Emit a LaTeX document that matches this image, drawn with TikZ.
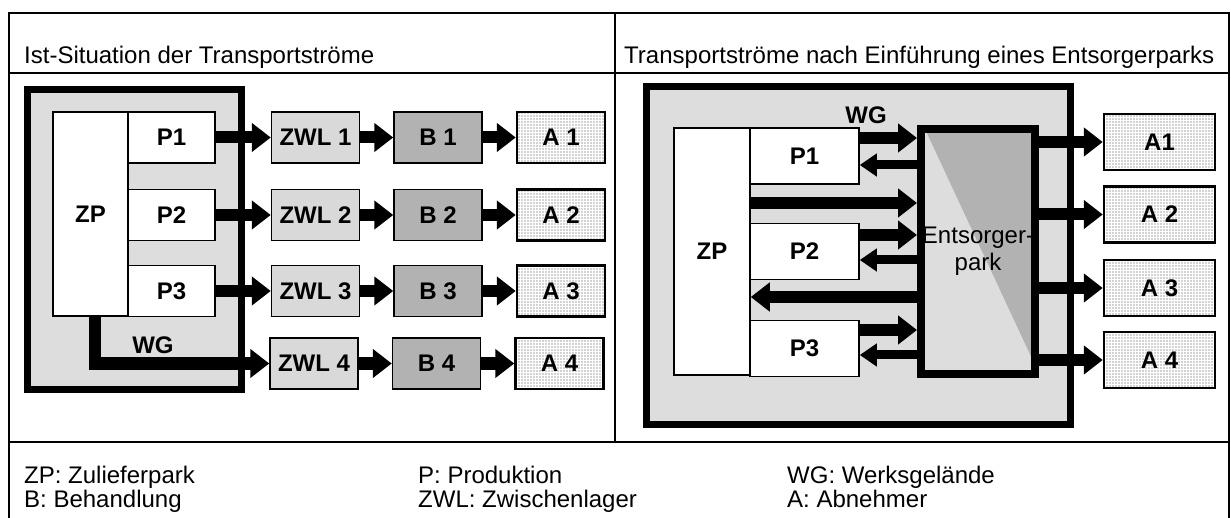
\documentclass[tikz,border=0pt]{standalone}
\usepackage{fontspec}
\setmainfont{Liberation Sans}
\usepackage{tikz}
\usetikzlibrary{arrows.meta,positioning,patterns.meta}
\definecolor{sitegray}{HTML}{DDDDDD}
\definecolor{storegray}{HTML}{D9D9D9}
\definecolor{treatgray}{HTML}{B2B2B2}
\tikzset{
  every node/.style={font=\fontsize{24}{27}\selectfont,text=black},
  rule/.style={draw=black,line width=2pt},
  site/.style={draw=black,line width=7pt,fill=sitegray},
  box/.style={draw=black,line width=1.5pt,fill=white,inner sep=0pt,minimum width=88pt,minimum height=51pt,font=\fontsize{24}{27}\selectfont\bfseries},
  store/.style={box,fill=storegray},
  treat/.style={box,fill=treatgray},
  cust/.style={box,line width=2.5pt,fill=none,pattern={Dots[distance=3pt,radius=0.6pt]},pattern color=black!75},
  epark/.style={draw=black,line width=8pt,fill=sitegray,inner sep=0pt,minimum width=114pt,minimum height=245pt,align=center,
    path picture={\fill[treatgray] ([xshift=4pt]path picture bounding box.north west) -- (path picture bounding box.north east) -- ([yshift=9pt]path picture bounding box.south east) -- cycle;}},
  flow/.style={draw=black,line width=12pt,line join=miter,-{Triangle[width=28pt,length=19pt]}},
  backflow/.style={draw=black,line width=9pt,-{Triangle[width=22pt,length=17pt]}},
  tag/.style={font=\fontsize{24}{27}\selectfont\bfseries},
  title/.style={anchor=base west,inner sep=0pt},
  legend/.style={anchor=base west,inner sep=0pt}
}

\begin{document}
\begin{tikzpicture}[x=1pt,y=-1pt,node distance=33pt]
  \useasboundingbox (0,0) rectangle (1231,518);
  % outer table
  \draw[rule] (9,518) -- (9,13) -- (1229,13) -- (1229,518);
  \draw[rule] (9,73) -- (1229,73);
  \draw[rule] (615,13) -- (615,442);
  \draw[rule] (9,442) -- (1229,442);
  \node[title] (titleL) at (24,64) {Ist-Situation der Transportströme};
  \node[title] (titleR) at (624,64) {Transportströme nach Einführung eines Entsorgerparks};

  % left: current state
  \draw[site] (27.5,89.5) rectangle (241.5,389.5);
  \node[box,minimum width=75pt,minimum height=204pt] (zpl) at (90.5,214) {ZP};
  \node[box,minimum width=87pt] (p1l) at (171.5,137.5) {P1};
  \node[box,minimum width=87pt] (p2l) at (171.5,215) {P2};
  \node[box,minimum width=87pt] (p3l) at (171.5,291) {P3};
  \node[tag] (wgl) at (153,345) {WG};

  \node[store,right=55pt of p1l] (zwl1) {ZWL 1};
  \node[store,right=55pt of p2l] (zwl2) {ZWL 2};
  \node[store,right=55pt of p3l] (zwl3) {ZWL 3};
  \node[store] (zwl4) at (314,363.5) {ZWL 4};
  \node[treat,right=of zwl1] (b1) {B 1};
  \node[treat,right=of zwl2] (b2) {B 2};
  \node[treat,right=of zwl3] (b3) {B 3};
  \node[treat,right=of zwl4] (b4) {B 4};
  \node[cust,right=of b1] (a1l) {A 1};
  \node[cust,right=of b2] (a2l) {A 2};
  \node[cust,right=of b3] (a3l) {A 3};
  \node[cust,right=of b4] (a4l) {A 4};

  \draw[flow] (p1l) -- (zwl1);
  \draw[flow] (p2l) -- (zwl2);
  \draw[flow] (p3l) -- (zwl3);
  \draw[flow] ([xshift=4.5pt]zpl.south) |- (zwl4.west);
  \draw[flow] (zwl1) -- (b1);
  \draw[flow] (zwl2) -- (b2);
  \draw[flow] (zwl3) -- (b3);
  \draw[flow] (zwl4) -- (b4);
  \draw[flow] (b1) -- (a1l);
  \draw[flow] (b2) -- (a2l);
  \draw[flow] (b3) -- (a3l);
  \draw[flow] (b4) -- (a4l);

  % right: with disposal park
  \draw[site] (646,87) rectangle (1070,424);
  \node[box,minimum width=76pt,minimum height=247pt] (zpr) at (712,251.5) {ZP};
  \node[box,minimum width=109pt,minimum height=56pt] (p1r) at (804.5,156) {P1};
  \node[box,minimum width=109pt,minimum height=56pt] (p2r) at (804.5,251.5) {P2};
  \node[box,minimum width=109pt,minimum height=56pt] (p3r) at (804.5,348.5) {P3};
  \node[tag] (wgr) at (866,115) {WG};
  \node[epark] (ep) at (978,251.5) {Entsorger-\\park};

  \node[cust,minimum width=111pt,minimum height=56pt] (a1r) at (1159.5,142) {A1};
  \node[cust,minimum width=111pt,minimum height=56pt] (a2r) at (1159.5,214.5) {A 2};
  \node[cust,minimum width=111pt,minimum height=56pt] (a3r) at (1159.5,288) {A 3};
  \node[cust,minimum width=111pt,minimum height=56pt] (a4r) at (1159.5,360) {A 4};

  \draw[flow] ([yshift=18pt]p1r.east) -- ([yshift=18pt]p1r.east -| ep.west);
  \draw[backflow] ([yshift=-9pt]p1r.east -| ep.west) -- ([yshift=-9pt]p1r.east);
  \draw[flow] ([yshift=48.5pt]zpr.east) -- ([yshift=48.5pt]zpr.east -| ep.west);
  \draw[flow] ([yshift=16.5pt]p2r.east) -- ([yshift=16.5pt]p2r.east -| ep.west);
  \draw[backflow] ([yshift=-8.5pt]p2r.east -| ep.west) -- ([yshift=-8.5pt]p2r.east);
  \draw[flow] ([yshift=-45.5pt]zpr.east -| ep.west) -- ([yshift=-45.5pt]zpr.east);
  \draw[flow] ([yshift=18.5pt]p3r.east) -- ([yshift=18.5pt]p3r.east -| ep.west);
  \draw[backflow] ([yshift=-6.5pt]p3r.east -| ep.west) -- ([yshift=-6.5pt]p3r.east);
  \draw[flow] (ep.east |- a1r.west) -- (a1r.west);
  \draw[flow] (ep.east |- a2r.west) -- (a2r.west);
  \draw[flow] (ep.east |- a3r.west) -- (a3r.west);
  \draw[flow] (ep.east |- a4r.west) -- (a4r.west);

  % legend
  \node[legend] (lzp) at (24,483) {ZP: Zulieferpark};
  \node[legend] (lb) at (24,507) {B: Behandlung};
  \node[legend] (lp) at (418,483) {P: Produktion};
  \node[legend] (lzwl) at (418,507) {ZWL: Zwischenlager};
  \node[legend] (lwg) at (787,483) {WG: Werksgelände};
  \node[legend] (la) at (787,507) {A: Abnehmer};
\end{tikzpicture}
\end{document}
